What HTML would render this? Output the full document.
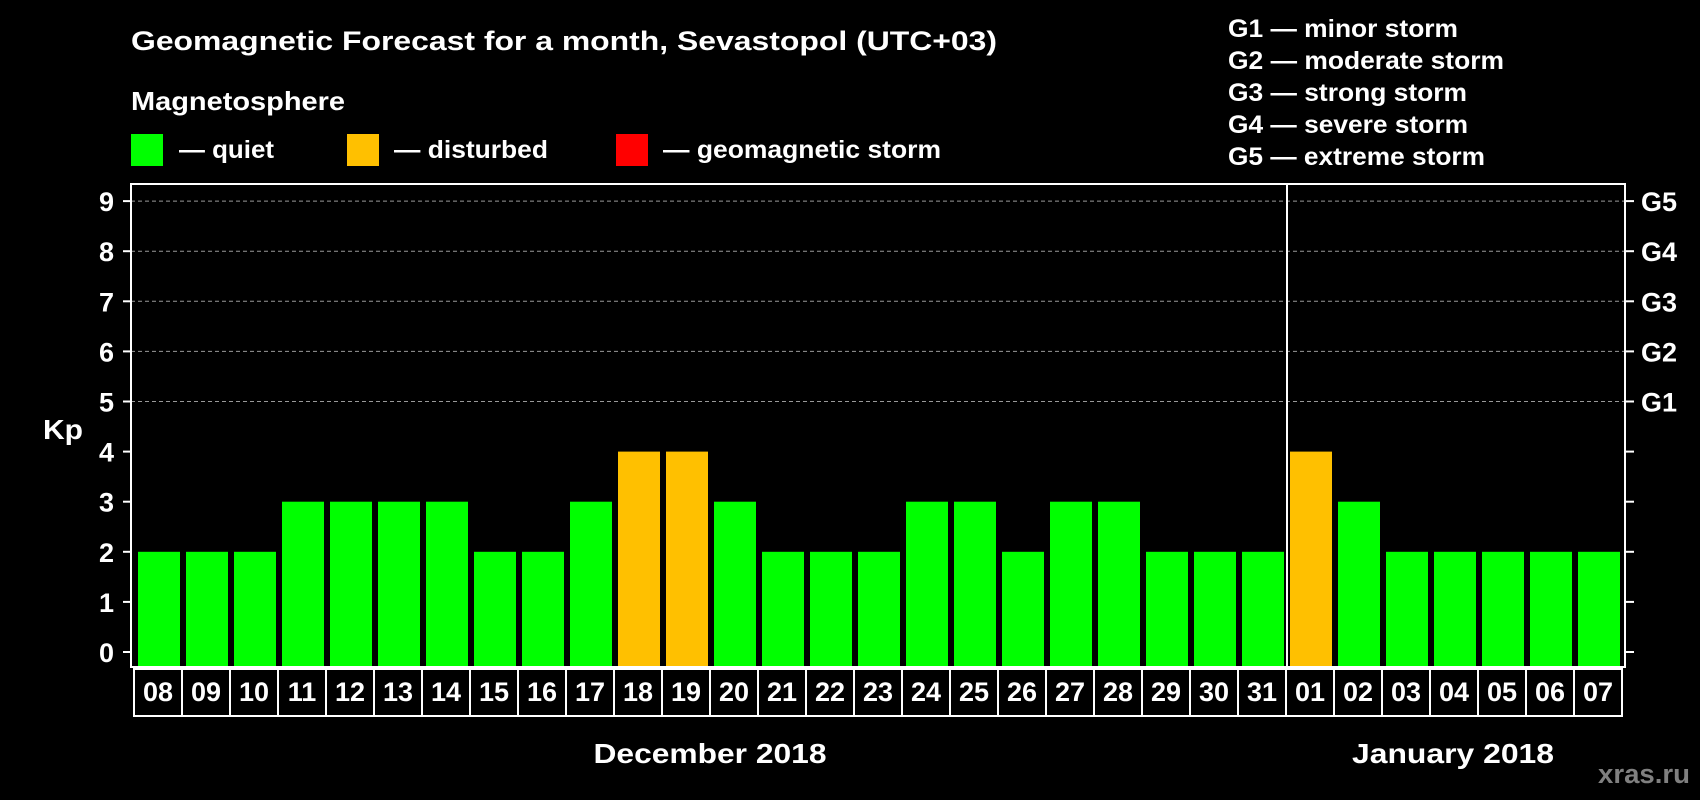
<!DOCTYPE html>
<html><head><meta charset="utf-8"><style>
html,body{margin:0;padding:0;background:#000;}
svg{display:block;font-family:"Liberation Sans",Arial,sans-serif;font-weight:bold;}
</style></head><body>
<svg id="c" width="1700" height="800" viewBox="0 0 1700 800">
<rect x="0" y="0" width="1700" height="800" fill="#000"/>
<text x="131" y="50" fill="#fff" font-size="27" textLength="866" lengthAdjust="spacingAndGlyphs">Geomagnetic Forecast for a month, Sevastopol (UTC+03)</text>
<text x="131" y="110" fill="#fff" font-size="26" textLength="214" lengthAdjust="spacingAndGlyphs">Magnetosphere</text>
<g><rect x="131" y="134" width="32" height="32" fill="#00ff00"/><text x="179" y="158" fill="#fff" font-size="25" textLength="95" lengthAdjust="spacingAndGlyphs">— quiet</text></g>
<g><rect x="347" y="134" width="32" height="32" fill="#ffc000"/><text x="394" y="158" fill="#fff" font-size="25" textLength="154" lengthAdjust="spacingAndGlyphs">— disturbed</text></g>
<g><rect x="616" y="134" width="32" height="32" fill="#ff0000"/><text x="663" y="158" fill="#fff" font-size="25" textLength="278" lengthAdjust="spacingAndGlyphs">— geomagnetic storm</text></g>
<g fill="#fff" font-size="25">
<text x="1228" y="37" textLength="230" lengthAdjust="spacingAndGlyphs">G1 — minor storm</text>
<text x="1228" y="69" textLength="276" lengthAdjust="spacingAndGlyphs">G2 — moderate storm</text>
<text x="1228" y="101" textLength="239" lengthAdjust="spacingAndGlyphs">G3 — strong storm</text>
<text x="1228" y="133" textLength="240" lengthAdjust="spacingAndGlyphs">G4 — severe storm</text>
<text x="1228" y="165" textLength="257" lengthAdjust="spacingAndGlyphs">G5 — extreme storm</text>
</g>
<text x="63" y="439" fill="#fff" font-size="28" text-anchor="middle" textLength="40" lengthAdjust="spacingAndGlyphs">Kp</text>
<text x="710" y="763" fill="#fff" font-size="28" text-anchor="middle" textLength="233" lengthAdjust="spacingAndGlyphs">December 2018</text>
<text x="1453" y="763" fill="#fff" font-size="28" text-anchor="middle" textLength="202" lengthAdjust="spacingAndGlyphs">January 2018</text>
<text x="1690" y="783" fill="#808080" font-size="27" text-anchor="end" textLength="92" lengthAdjust="spacingAndGlyphs">xras.ru</text>
<g id="plot"></g>
</svg>
<script>
const days=["08","09","10","11","12","13","14","15","16","17","18","19","20","21","22","23","24","25","26","27","28","29","30","31","01","02","03","04","05","06","07"];
const kp=[2,2,2,3,3,3,3,2,2,3,4,4,3,2,2,2,3,3,2,3,3,2,2,2,4,3,2,2,2,2,2];
const yTicks=[0,1,2,3,4,5,6,7,8,9];
const gLabels=["G1","G2","G3","G4","G5"];
const gLevels=[5,6,7,8,9];
const monthBreakIndex=24;
const NS="http://www.w3.org/2000/svg";
const g=document.getElementById('plot');
const L=131,R=1625,T=184,B=667,Y0=652,UNIT=50.1,X0=134,STEP=48;
const y=v=>Y0-v*UNIT;
const x=i=>X0+i*STEP;
function mk(tag,a){const e=document.createElementNS(NS,tag);for(const k in a)e.setAttribute(k,a[k]);g.appendChild(e);return e;}
yTicks.forEach(v=>{
 if(v>=5){const l=mk('line',{x1:L,x2:R,y1:y(v),y2:y(v),stroke:'#999','stroke-dasharray':'4,3','stroke-width':1});
 
 }
 const tl=mk('line',{x1:L-8,x2:L,y1:y(v),y2:y(v),stroke:'#fff','stroke-width':2});
 
 
 const tr=mk('line',{x1:R,x2:R+9,y1:y(v),y2:y(v),stroke:'#fff','stroke-width':2});
 
 
 const t=mk('text',{x:L-17,y:y(v)+10,fill:'#fff','font-size':27,'text-anchor':'end'});
 t.textContent=v;
 
 
});
gLabels.forEach((s,i)=>{
 const t=mk('text',{x:R+16,y:y(gLevels[i])+10,fill:'#fff','font-size':27});
 t.textContent=s;
 
 
});
kp.forEach((v,i)=>{
 const col=v>=5?'#ff0000':(v>=4?'#ffc000':'#00ff00');
 const r=mk('rect',{x:x(i)+4,y:y(v),width:42,height:B-y(v),fill:col});
 
 
 const c=mk('rect',{x:x(i),y:B+2,width:STEP,height:47,fill:'none',stroke:'#fff','stroke-width':2});
 
 
 const t=mk('text',{x:x(i)+STEP/2,y:B+34,fill:'#fff','font-size':27,'text-anchor':'middle'});
 t.textContent=days[i];
 
 
});
const fr=mk('rect',{x:L,y:T,width:R-L,height:B-T,fill:'none',stroke:'#fff','stroke-width':2});


const d=mk('line',{x1:x(monthBreakIndex)+1,x2:x(monthBreakIndex)+1,y1:T,y2:B,stroke:'#fff','stroke-width':2});


</script>
</body></html>
